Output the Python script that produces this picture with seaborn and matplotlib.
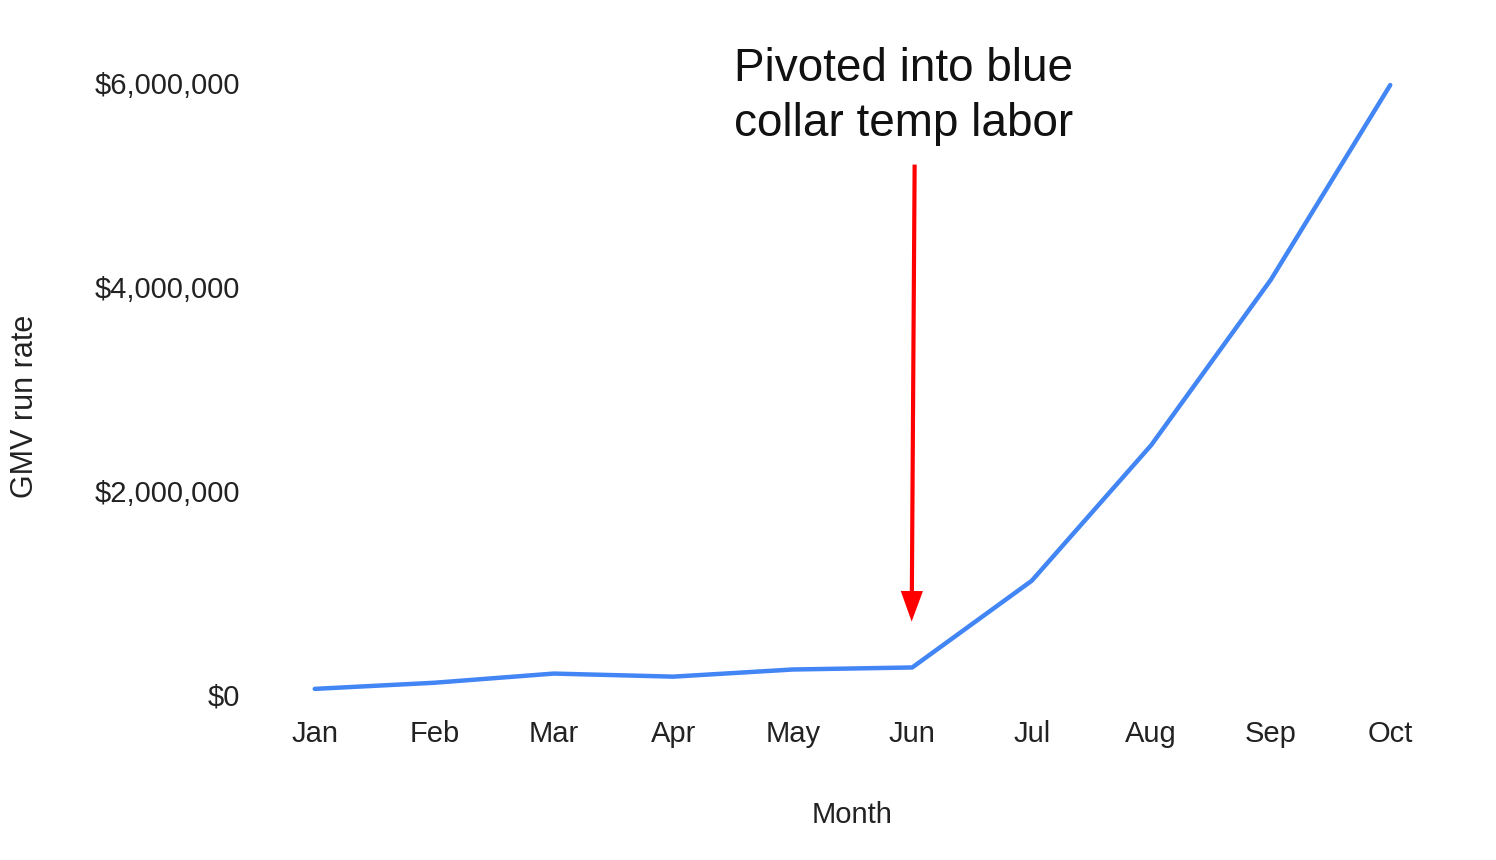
import pandas as pd
import matplotlib
matplotlib.use('Agg')
import matplotlib.pyplot as plt
import matplotlib.ticker as mticker
import seaborn as sns

months = ['Jan', 'Feb', 'Mar', 'Apr', 'May', 'Jun', 'Jul', 'Aug', 'Sep', 'Oct']
gmv = [60000, 120000, 210000, 180000, 250000, 270000, 1120000, 2450000, 4070000, 5980000]
y_ticks = [0, 2000000, 4000000, 6000000]
note = 'Pivoted into blue\ncollar temp labor'

sns.set_style('white')
plt.rcParams['font.family'] = ['Liberation Sans', 'DejaVu Sans']

df = pd.DataFrame({'Month': months, 'GMV run rate': gmv})

fig = plt.figure(figsize=(14.96, 8.6), dpi=100)
ax = fig.add_axes([255 / 1496, 165 / 860, 1195 / 1496, 612 / 860])

sns.lineplot(data=df, x='Month', y='GMV run rate', sort=False, color='#4285F4',
             lw=3.2, ax=ax, clip_on=False)

ax.set_xlim(-0.5, 9.5)
ax.set_ylim(0, 6000000)
ax.set_yticks(y_ticks)
ax.yaxis.set_major_formatter(mticker.FuncFormatter(lambda v, p: '${:,.0f}'.format(v)))
ax.tick_params(axis='both', length=0, labelsize=21, colors='#222222')
ax.tick_params(axis='y', pad=11)
ax.tick_params(axis='x', pad=18)
sns.despine(ax=ax, left=True, bottom=True)

ax.set_xlabel('Month', fontsize=21, color='#222222')
ax.set_ylabel('GMV run rate', fontsize=22, color='#222222')
ax.xaxis.set_label_coords(0.5, -0.173)
ax.yaxis.set_label_coords(-0.18, 0.472)

# annotation
ax.annotate('', xy=(4.995, 720000), xytext=(5.02, 5200000),
            arrowprops=dict(width=3, headwidth=16, headlength=22, shrink=0,
                            facecolor='#ff0000', edgecolor='#ff0000', lw=0))
ax.text(3.51, 6350000, note, fontsize=33, color='#111111', ha='left', va='top',
        linespacing=1.3)

fig.savefig('out.png', dpi=100, facecolor='white')
